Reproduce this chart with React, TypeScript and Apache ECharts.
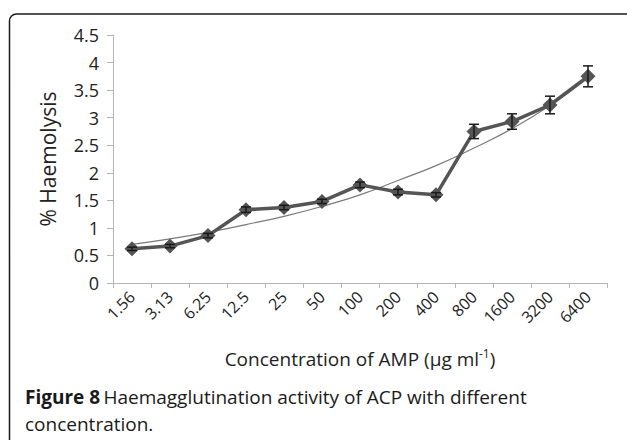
import React, { useEffect, useRef } from "react";
import * as echarts from "echarts";

const categories = ["1.56", "3.13", "6.25", "12.5", "25", "50", "100", "200", "400", "800", "1600", "3200", "6400"];
const haemolysis = [0.62, 0.67, 0.86, 1.33, 1.37, 1.48, 1.78, 1.65, 1.6, 2.75, 2.93, 3.23, 3.75];
const errors = [0.03, 0.03, 0.04, 0.05, 0.04, 0.04, 0.05, 0.05, 0.04, 0.13, 0.14, 0.16, 0.19];
const trend = [0.7, 0.8, 0.92, 1.06, 1.21, 1.39, 1.6, 1.86, 2.13, 2.45, 2.8, 3.22, 3.72];
const yTicks = { min: 0, max: 4.5, interval: 0.5 };

const FONT = "'Open Sans', 'DejaVu Sans', sans-serif";

export default function App() {
  const ref = useRef<HTMLDivElement>(null);
  useEffect(() => {
    document.body.style.margin = "0";
    if (!ref.current) return;
    const chart = echarts.init(ref.current, null, { renderer: "svg" });
    const errData = categories.map((_, i) => [i, haemolysis[i] - errors[i], haemolysis[i] + errors[i]]);
    chart.setOption({
      animation: false,
      backgroundColor: "#ffffff",
      textStyle: { fontFamily: FONT },
      grid: { left: 113, right: 20, top: 35, bottom: 157 },
      xAxis: {
        type: "category",
        data: categories,
        boundaryGap: true,
        axisLine: { lineStyle: { color: "#b5b5b5", width: 1 } },
        axisTick: { show: true, length: 5, lineStyle: { color: "#b5b5b5" } },
        axisLabel: { rotate: 45, fontSize: 16, color: "#222", margin: 11, fontFamily: FONT },
        name: "{n|Concentration of AMP (μg ml}{s|-1}{n|)}",
        nameLocation: "middle",
        nameGap: 64,
        nameTextStyle: {
          rich: {
            n: { fontSize: 19, color: "#222", fontFamily: FONT, lineHeight: 24 },
            s: { fontSize: 12, color: "#222", fontFamily: FONT, verticalAlign: "top", lineHeight: 24, padding: [0, 0, 10, 0] },
          },
        },
      },
      yAxis: {
        type: "value",
        min: yTicks.min,
        max: yTicks.max,
        interval: yTicks.interval,
        splitLine: { show: false },
        axisLine: { show: true, lineStyle: { color: "#b5b5b5", width: 1 } },
        axisTick: { show: true, length: 6, lineStyle: { color: "#b5b5b5" } },
        axisLabel: { fontSize: 18, color: "#222", margin: 14, fontFamily: FONT },
        name: "% Haemolysis",
        nameLocation: "middle",
        nameGap: 55,
        nameTextStyle: { fontSize: 21, color: "#222", fontFamily: FONT },
      },
      series: [
        {
          type: "line",
          data: trend,
          smooth: true,
          symbol: "none",
          lineStyle: { color: "#7a7a7a", width: 1.2 },
          z: 1,
        },
        {
          type: "line",
          data: haemolysis,
          symbol: "diamond",
          symbolSize: 15,
          lineStyle: { color: "#555555", width: 3.5 },
          itemStyle: { color: "#555555" },
          z: 2,
        },
        {
          type: "custom",
          data: errData,
          z: 3,
          renderItem: (params: any, api: any) => {
            const x = api.value(0);
            const lo = api.coord([x, api.value(1)]);
            const hi = api.coord([x, api.value(2)]);
            const hw = 5;
            const st = { stroke: "#1a1a1a", lineWidth: 1.5 };
            return {
              type: "group",
              children: [
                { type: "line", shape: { x1: lo[0], y1: lo[1], x2: hi[0], y2: hi[1] }, style: st },
                { type: "line", shape: { x1: lo[0] - hw, y1: lo[1], x2: lo[0] + hw, y2: lo[1] }, style: st },
                { type: "line", shape: { x1: hi[0] - hw, y1: hi[1], x2: hi[0] + hw, y2: hi[1] }, style: st },
              ],
            };
          },
        },
      ],
      graphic: [
        {
          type: "rect",
          shape: { x: 9.5, y: 14, width: 625, height: 460, r: 7 },
          style: { fill: "none", stroke: "#1a1a1a", lineWidth: 1.5 },
          silent: true,
          z: -1,
        },
        {
          type: "text",
          left: 25,
          top: 387,
          style: {
            text: "{b|Figure 8} {n|Haemagglutination activity of ACP with different}\n{n|concentration.}",
            rich: {
              b: { fontSize: 19, fontWeight: "bold", fill: "#1a1a1a", fontFamily: FONT, lineHeight: 27 },
              n: { fontSize: 19, fill: "#1a1a1a", fontFamily: FONT, lineHeight: 27 },
            },
          },
        },
      ],
    });
    return () => chart.dispose();
  }, []);
  return <div ref={ref} style={{ width: 627, height: 440 }} />;
}
